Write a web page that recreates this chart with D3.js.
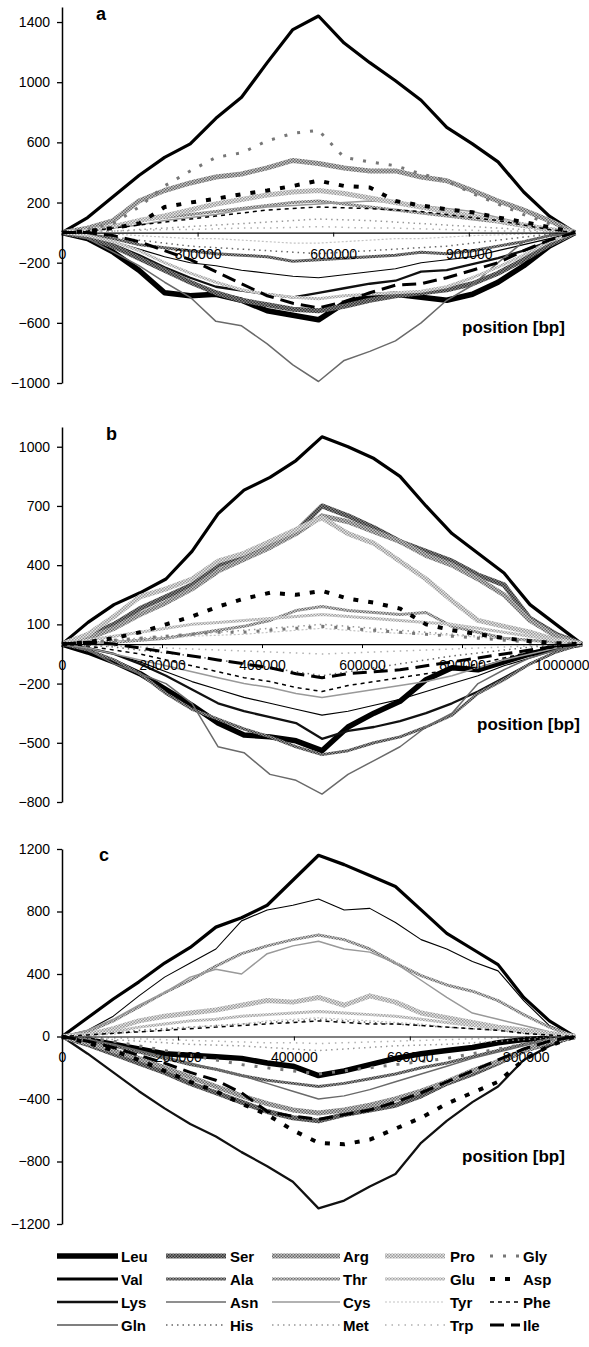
<!DOCTYPE html>
<html>
<head>
<meta charset="utf-8">
<script src="https://cdn.jsdelivr.net/npm/d3@7"></script>
<style>
  body { margin: 0; background: #fff; }
  svg { display: block; }
  text { font-family: "Liberation Sans", Arial, sans-serif; }
</style>
</head>
<body>
<div id="chart"></div>
<script>
const W = 589, H = 1347;

// amino acids, in legend order (column by column)
const AMINO = ["Leu", "Val", "Lys", "Gln", "Ser", "Ala", "Asn", "His", "Arg", "Thr",
               "Cys", "Met", "Pro", "Glu", "Tyr", "Trp", "Gly", "Asp", "Phe", "Ile"];

// genome positions [bp] of the sampled points
const POS_A = [0, 56750, 113500, 170250, 227000, 283750, 340500, 397250, 454000, 510750, 567500,
               624250, 681000, 737750, 794500, 851250, 908000, 964750, 1021500, 1078250, 1135000];
const POS_B = [0, 52000, 104000, 156000, 208000, 260000, 312000, 364000, 416000, 468000, 520000,
               572000, 624000, 676000, 728000, 780000, 832000, 884000, 936000, 988000, 1040000];
const POS_C = [0, 44250, 88500, 132750, 177000, 221250, 265500, 309750, 354000, 398250, 442500,
               486750, 531000, 575250, 619500, 663750, 708000, 752250, 796500, 840750, 885000];

// cumulative skew, panel a (rows in AMINO order)
const SKEW_A = [
  [0,-40,-130,-250,-400,-420,-410,-450,-520,-550,-580,-470,-420,-410,-430,-450,-410,-330,-220,-90,0],   // Leu
  [0,100,240,380,500,590,760,900,1130,1350,1440,1260,1130,1010,880,700,590,470,270,110,0],           // Val
  [0,-30,-80,-150,-230,-300,-360,-385,-410,-430,-400,-370,-340,-320,-260,-250,-210,-170,-120,-60,0],   // Lys
  [0,-20,-60,-110,-160,-200,-220,-250,-270,-290,-300,-280,-260,-240,-200,-180,-160,-120,-80,-40,0],    // Gln
  [0,-30,-90,-170,-250,-330,-400,-450,-480,-510,-520,-490,-450,-420,-400,-380,-340,-270,-180,-80,0],   // Ser
  [0,-10,-40,-80,-100,-120,-140,-150,-160,-190,-180,-170,-160,-150,-130,-140,-120,-90,-60,-20,0],      // Ala
  [0,-40,-130,-220,-330,-430,-590,-620,-740,-880,-990,-850,-790,-720,-600,-450,-350,-200,-60,-20,0],   // Asn
  [0,-10,-30,-50,-70,-90,-100,-110,-120,-130,-140,-130,-120,-110,-100,-90,-70,-50,-30,-10,0],          // His
  [0,30,80,210,280,330,370,390,430,480,460,430,410,410,370,345,280,210,150,80,0],                      // Arg
  [0,20,40,80,100,120,140,160,180,200,210,190,170,150,130,110,90,70,40,20,0],                          // Thr
  [0,10,30,50,80,100,120,150,170,180,190,200,210,200,180,160,140,100,60,30,0],                         // Cys
  [0,5,10,20,30,40,50,60,70,80,90,85,80,70,60,50,40,30,20,10,0],                                      // Met
  [0,10,40,80,110,150,190,220,250,270,280,260,230,200,170,140,110,80,50,20,0],                         // Pro
  [0,-20,-60,-120,-200,-270,-330,-380,-410,-430,-440,-420,-410,-400,-390,-360,-300,-230,-150,-60,0],   // Glu
  [0,-5,-10,-20,-30,-40,-40,-50,-60,-70,-70,-60,-50,-40,-40,-30,-20,-15,-10,-5,0],                     // Tyr
  [0,5,10,15,20,20,25,30,30,35,40,35,30,30,25,20,15,10,10,5,0],                                       // Trp
  [0,20,60,170,310,410,500,530,610,660,680,500,470,445,390,345,260,190,120,60,0],                      // Gly
  [0,10,30,60,170,200,225,255,280,310,345,310,300,210,180,155,135,100,70,35,0],                        // Asp
  [0,10,30,50,70,90,110,130,150,160,170,165,160,150,140,120,100,80,50,20,0],                           // Phe
  [0,0,-20,-60,-120,-180,-260,-340,-420,-470,-500,-460,-400,-350,-340,-300,-250,-200,-120,-50,0]       // Ile
];

// cumulative skew, panel b
const SKEW_B = [
  [0,-40,-90,-150,-230,-310,-400,-460,-470,-490,-540,-420,-350,-290,-180,-120,-130,-90,-50,-20,0],     // Leu
  [0,110,200,260,330,470,660,780,845,930,1050,1000,940,850,700,560,460,360,200,100,0],                 // Val
  [0,-20,-50,-100,-160,-230,-300,-340,-370,-400,-480,-440,-420,-390,-350,-300,-240,-170,-100,-40,0],   // Lys
  [0,-20,-50,-90,-140,-190,-230,-270,-300,-330,-360,-340,-310,-280,-240,-200,-160,-110,-70,-30,0],     // Gln
  [0,40,100,180,240,300,400,450,500,570,700,650,590,520,470,420,350,300,130,50,0],                     // Ser
  [0,-30,-80,-150,-250,-330,-380,-430,-470,-520,-560,-540,-500,-470,-420,-360,-250,-180,-100,-40,0],   // Ala
  [0,-30,-100,-150,-200,-300,-520,-550,-660,-690,-760,-660,-590,-520,-420,-350,-200,-130,-70,-30,0],   // Asn
  [0,-5,-15,-30,-45,-60,-80,-100,-120,-140,-160,-140,-120,-100,-80,-60,-45,-30,-15,-5,0],              // His
  [0,30,80,150,210,280,370,430,490,560,650,620,570,520,450,400,330,250,120,40,0],                      // Arg
  [0,5,10,20,30,50,70,90,120,170,190,170,160,150,160,90,60,30,20,10,0],                                // Thr
  [0,-20,-50,-80,-110,-140,-170,-200,-220,-250,-270,-250,-230,-210,-190,-160,-120,-80,-50,-20,0],      // Cys
  [0,10,20,30,40,50,60,70,80,90,100,90,80,70,60,50,40,30,20,10,0],                                    // Met
  [0,50,140,240,280,330,420,460,520,580,640,560,510,420,330,220,120,90,60,20,0],                       // Pro
  [0,20,40,60,80,100,110,120,130,140,150,140,130,120,110,100,80,60,40,20,0],                           // Glu
  [0,5,10,20,30,40,45,50,60,70,80,70,60,55,50,45,35,25,15,5,0],                                       // Tyr
  [0,-5,-10,-15,-20,-25,-30,-35,-40,-45,-50,-45,-40,-35,-30,-25,-20,-15,-10,-5,0],                     // Trp
  [0,10,20,30,40,50,60,60,70,80,90,80,70,60,50,40,30,20,10,5,0],                                      // Gly
  [0,10,30,60,100,140,190,230,260,250,270,230,210,180,100,70,50,30,15,5,0],                            // Asp
  [0,-10,-30,-50,-80,-110,-140,-170,-190,-220,-240,-210,-190,-170,-150,-130,-100,-70,-40,-15,0],       // Phe
  [0,10,0,-20,-40,-60,-80,-100,-120,-150,-170,-150,-140,-130,-110,-90,-70,-50,-30,-10,0]              // Ile
];

// cumulative skew, panel c
const SKEW_C = [
  [0,-20,-50,-80,-110,-120,-130,-140,-170,-190,-250,-220,-180,-140,-110,-90,-70,-40,-20,-10,0],        // Leu
  [0,120,240,350,470,570,700,760,840,1000,1160,1100,1030,960,810,660,560,460,250,100,0],               // Val
  [0,-110,-230,-350,-460,-560,-640,-740,-830,-930,-1100,-1050,-960,-880,-680,-540,-420,-320,-150,-60,0], // Lys
  [0,40,130,260,380,470,560,740,810,840,880,810,820,730,620,560,480,420,230,70,0],                     // Gln
  [0,-50,-110,-170,-230,-300,-360,-420,-480,-520,-540,-500,-470,-440,-380,-300,-240,-170,-90,-40,0],   // Ser
  [0,-20,-60,-100,-140,-180,-210,-250,-280,-300,-320,-300,-270,-240,-200,-170,-130,-90,-50,-20,0],     // Ala
  [0,-20,-50,-90,-130,-170,-210,-250,-300,-350,-400,-380,-340,-290,-240,-190,-140,-100,-60,-20,0],     // Asn
  [0,10,20,40,50,60,70,80,90,100,110,100,90,80,70,60,50,40,20,10,0],                                  // His
  [0,-40,-90,-140,-200,-260,-320,-380,-430,-470,-490,-470,-440,-400,-350,-290,-220,-160,-90,-30,0],    // Arg
  [0,30,100,190,280,360,450,530,580,620,650,620,560,470,390,330,290,230,140,60,0],                     // Thr
  [0,40,110,200,280,380,430,400,530,580,610,560,540,470,360,250,150,110,70,30,0],                      // Cys
  [0,-10,-20,-30,-40,-50,-55,-60,-70,-80,-90,-80,-70,-60,-55,-50,-40,-30,-20,-10,0],                   // Met
  [0,10,50,100,130,150,170,200,230,220,250,200,260,220,150,120,90,60,40,20,0],                         // Pro
  [0,10,30,60,80,100,110,130,140,150,160,150,140,130,110,90,70,50,30,10,0],                            // Glu
  [0,5,15,30,40,60,70,80,100,110,120,110,100,90,80,60,50,40,20,10,0],                                 // Tyr
  [0,-5,-10,-15,-20,-25,-30,-35,-40,-40,-45,-40,-35,-30,-25,-20,-15,-10,-5,-5,0],                      // Trp
  [0,-10,-30,-60,-90,-120,-150,-180,-200,-220,-240,-220,-200,-180,-160,-140,-110,-80,-50,-20,0],       // Gly
  [0,-40,-90,-150,-220,-290,-350,-430,-500,-600,-680,-690,-660,-590,-520,-430,-360,-290,-150,-60,0],   // Asp
  [0,10,20,30,40,50,60,70,80,90,100,90,80,80,70,60,50,40,20,10,0],                                    // Phe
  [0,-30,-70,-120,-170,-230,-280,-360,-480,-510,-530,-500,-470,-420,-360,-290,-220,-150,-80,-30,0]    // Ile
];

// axis ticks
const Y_TICKS_A = [-1000, -600, -200, 200, 600, 1000, 1400];
const Y_TICKS_B = [-800, -500, -200, 100, 400, 700, 1000];
const Y_TICKS_C = [-1200, -800, -400, 0, 400, 800, 1200];
const X_TICKS_A = [0, 300000, 600000, 900000];
const X_TICKS_B = [0, 200000, 400000, 600000, 800000, 1000000];
const X_TICKS_C = [0, 200000, 400000, 600000, 800000];

// line style per amino acid (same order as AMINO); p = halftone screen
const STYLE = [
  {c: "#000", w: 5.5, d: null},                    // Leu
  {c: "#000", w: 3.2, d: null},                    // Val
  {c: "#111", w: 2.3, d: null},                    // Lys
  {c: "#000", w: 1.1, d: null},                    // Gln
  {c: "#555", w: 5, d: null, p: ["#8a8a8a", "#333"]},  // Ser
  {c: "#5e5e5e", w: 3, d: null, p: ["#9a9a9a", "#3a3a3a"]}, // Ala
  {c: "#6a6a6a", w: 1.5, d: null},                 // Asn
  {c: "#666", w: 1.5, d: "1.5,4"},                 // His
  {c: "#8a8a8a", w: 5, d: null, p: ["#c8c8c8", "#666"]},  // Arg
  {c: "#8c8c8c", w: 3, d: null, p: ["#cfcfcf", "#6a6a6a"]}, // Thr
  {c: "#999", w: 1.5, d: null},                    // Cys
  {c: "#999", w: 1.5, d: "1.5,4"},                 // Met
  {c: "#bdbdbd", w: 5, d: null, p: ["#e6e6e6", "#999"]},  // Pro
  {c: "#bdbdbd", w: 3, d: null, p: ["#e8e8e8", "#a0a0a0"]}, // Glu
  {c: "#c4c4c4", w: 1.2, d: "2,2"},                // Tyr
  {c: "#b0b0b0", w: 1.5, d: "1.5,5"},              // Trp
  {c: "#777", w: 3, d: "3,10"},                    // Gly
  {c: "#000", w: 4, d: "5,10"},                    // Asp
  {c: "#000", w: 1.5, d: "4,4"},                   // Phe
  {c: "#000", w: 3, d: "14,7"}                     // Ile
];

const SVG = d3.select("#chart").append("svg")
    .attr("width", W)
    .attr("height", H);

// halftone patterns for the grey bands
const DEFS = SVG.append("defs");
STYLE.forEach((s, i) => {
  if (!s.p) return;
  const pat = DEFS.append("pattern")
      .attr("id", "ht" + i)
      .attr("patternUnits", "userSpaceOnUse")
      .attr("width", 3).attr("height", 3);
  pat.append("rect").attr("width", 3).attr("height", 3).attr("fill", s.p[0]);
  pat.append("rect").attr("width", 1.5).attr("height", 1.5).attr("fill", s.p[1]);
  pat.append("rect").attr("x", 1.5).attr("y", 1.5).attr("width", 1.5).attr("height", 1.5).attr("fill", s.p[1]);
});
function strokeOf(i) {
  return STYLE[i].p ? "url(#ht" + i + ")" : STYLE[i].c;
}

const PANELS = [
  {letter: "a", pos: POS_A, vals: SKEW_A, yDom: [-1000, 1500], yRange: [383, 7], xEnd: 575,
   yTicks: Y_TICKS_A, xTicks: X_TICKS_A, letterXY: [96, 20], posXY: [462, 333]},
  {letter: "b", pos: POS_B, vals: SKEW_B, yDom: [-800, 1100], yRange: [802, 427], xEnd: 582,
   yTicks: Y_TICKS_B, xTicks: X_TICKS_B, letterXY: [106, 440], posXY: [477, 730]},
  {letter: "c", pos: POS_C, vals: SKEW_C, yDom: [-1200, 1200], yRange: [1224, 849], xEnd: 575,
   yTicks: Y_TICKS_C, xTicks: X_TICKS_C, letterXY: [99, 861], posXY: [462, 1162]}
];

function drawPanel(p) {
  const x = d3.scaleLinear().domain([0, p.pos[p.pos.length - 1]]).range([62, p.xEnd]);
  const y = d3.scaleLinear().domain(p.yDom).range(p.yRange);
  const g = SVG.append("g");

  const line = d3.line()
      .x((d, i) => x(p.pos[i]))
      .y(d => y(d));

  g.selectAll("path.series")
    .data(p.vals)
    .enter()
    .append("path")
      .attr("class", "series")
      .attr("d", line)
      .attr("fill", "none")
      .attr("stroke", (d, i) => strokeOf(i))
      .attr("stroke-width", (d, i) => STYLE[i].w)
      .attr("stroke-dasharray", (d, i) => STYLE[i].d)
      .attr("stroke-linejoin", "round");

  // x axis along zero
  const xAx = g.append("g")
      .attr("transform", "translate(0," + y(0) + ")")
      .call(d3.axisBottom(x).tickValues(p.xTicks).tickSize(4).tickSizeOuter(0)
            .tickPadding(12).tickFormat(d3.format("d")));
  xAx.select(".domain").attr("stroke", "#000").attr("stroke-width", 1.2);
  xAx.selectAll("text").attr("font-size", "14px").attr("fill", "#000")
      .attr("font-family", "'Liberation Sans', Arial, sans-serif");
  // keep the widest last label inside the frame
  xAx.selectAll("text").filter(d => d >= 1000000).attr("text-anchor", "end").attr("x", 27);

  // y axis
  const yAx = g.append("g")
      .attr("transform", "translate(62,0)")
      .call(d3.axisLeft(y).tickValues(p.yTicks).tickSize(5).tickSizeOuter(0)
            .tickPadding(7).tickFormat(d3.format("d")));
  yAx.select(".domain").attr("stroke", "#000").attr("stroke-width", 1.5);
  yAx.selectAll("line").attr("stroke-width", 1.3);
  yAx.selectAll("text").attr("font-size", "14px").attr("fill", "#000")
      .attr("font-family", "'Liberation Sans', Arial, sans-serif");

  g.append("text")
      .attr("x", p.letterXY[0]).attr("y", p.letterXY[1])
      .attr("font-size", "18px").attr("font-weight", "bold")
      .text(p.letter);

  g.append("text")
      .attr("x", p.posXY[0]).attr("y", p.posXY[1])
      .attr("font-size", "17px").attr("font-weight", "bold")
      .text("position [bp]");
}

PANELS.forEach(drawPanel);

// legend: 5 columns x 4 rows
const LEG_COLS = [[57, 118, 121], [166, 226, 230], [272, 340, 343], [385, 445, 450], [490, 520, 523]];
const LEG_ROW_Y = [1256, 1279, 1302, 1325];

const legend = SVG.append("g");
AMINO.forEach((name, i) => {
  const col = LEG_COLS[Math.floor(i / 4)];
  const yy = LEG_ROW_Y[i % 4];
  const s = STYLE[i];
  legend.append("rect")
      .attr("x", col[0]).attr("y", yy - s.w / 2)
      .attr("width", col[1] - col[0]).attr("height", s.w)
      .attr("fill", "none");
  legend.append("line")
      .attr("x1", col[0]).attr("x2", col[1])
      .attr("y1", yy).attr("y2", yy)
      .attr("stroke", strokeOf(i))
      .attr("stroke-width", s.w)
      .attr("stroke-dasharray", s.d);
  legend.append("text")
      .attr("x", col[2]).attr("y", yy + 5.5)
      .attr("font-size", "15px").attr("font-weight", "bold")
      .text(name);
});
</script>
</body>
</html>
